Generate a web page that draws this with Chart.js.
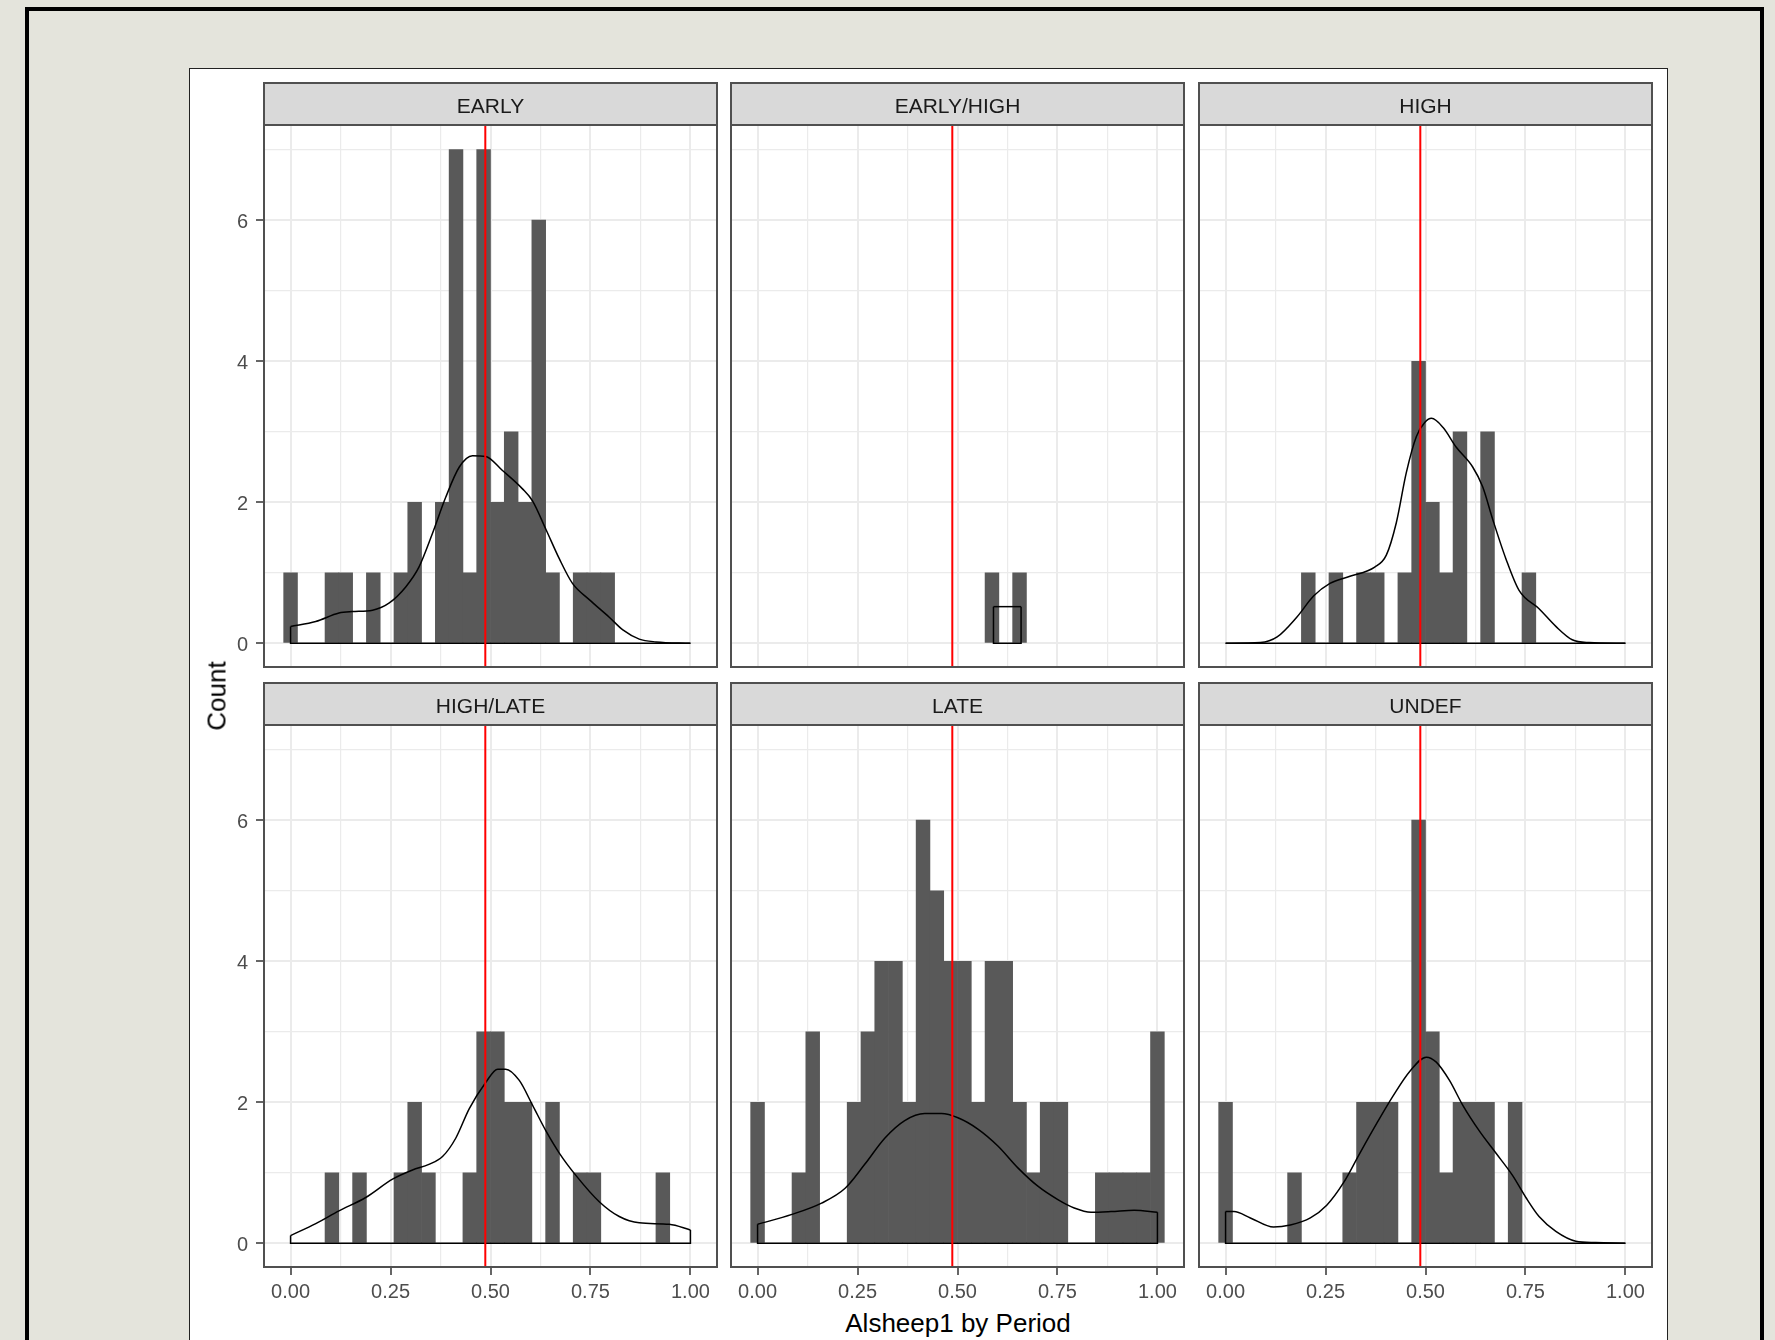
<!DOCTYPE html>
<html>
<head>
<meta charset="utf-8">
<script src="https://cdn.jsdelivr.net/npm/chart.js@4.4.1/dist/chart.umd.min.js"></script>
<style>
  html, body { margin: 0; padding: 0; }
  body {
    width: 1775px; height: 1340px; position: relative; overflow: hidden;
    background: #e4e4dc; font-family: "Liberation Sans", Arial, sans-serif;
  }
  #frame {
    position: absolute; left: 25px; top: 7px; width: 1739px; height: 1400px;
    border: 4px solid #000; box-sizing: border-box;
  }
  #sheet {
    position: absolute; left: 189px; top: 68px; width: 1479px; height: 1300px;
    background: #fff; border: 1px solid #222; box-sizing: border-box;
  }
  canvas { position: absolute; }
  .ytitle {
    position: absolute; left: 217px; top: 696px; font-size: 26px; color: #000;
    transform: translate(-50%, -50%) rotate(-90deg); white-space: nowrap;
  }
  .xtitle {
    position: absolute; left: 958px; top: 1308px; font-size: 26px; line-height: 30px;
    color: #000; transform: translateX(-50%); white-space: nowrap;
  }
</style>
</head>
<body>
<div id="frame"></div>
<div id="sheet"></div>
<div id="panels"></div>
<div class="ytitle">Count</div>
<div class="xtitle">Alsheep1 by Period</div>
<script>
const periods = ['EARLY', 'EARLY/HIGH', 'HIGH', 'HIGH/LATE', 'LATE', 'UNDEF'];

// 30 bins over [0, 1], centred on 0 .. 1 (ggplot default)
const binCount = 30;
const binWidth = 1 / (binCount - 1);
const binCenters = Array.from({ length: binCount }, (_, k) => k * binWidth);

const earlyCounts     = [1,0,0,1,1,0,1,0,1,2,0,2,7,1,7,2,3,2,6,1,0,1,1,1,0,0,0,0,0,0];
const earlyHighCounts = [0,0,0,0,0,0,0,0,0,0,0,0,0,0,0,0,0,1,0,1,0,0,0,0,0,0,0,0,0,0];
const highCounts      = [0,0,0,0,0,0,1,0,1,0,1,1,0,1,4,2,1,3,0,3,0,0,1,0,0,0,0,0,0,0];
const highLateCounts  = [0,0,0,1,0,1,0,0,1,2,1,0,0,1,3,3,2,2,0,2,0,1,1,0,0,0,0,1,0,0];
const lateCounts      = [2,0,0,1,3,0,0,2,3,4,4,2,6,5,4,4,2,4,4,2,1,2,2,0,0,1,1,1,1,3];
const undefCounts     = [2,0,0,0,0,1,0,0,0,1,2,2,2,0,6,3,1,2,2,2,0,2,0,0,0,0,0,0,0,0];

// density curves
const earlyDensX = [0, 0.063, 0.121, 0.154, 0.205, 0.246, 0.288, 0.321, 0.355, 0.388, 0.422, 0.455, 0.488, 0.530, 0.580, 0.605, 0.639, 0.672, 0.705, 0.747, 0.797, 0.831, 0.872, 0.914, 1];
const earlyDensY = [0.24, 0.31, 0.43, 0.45, 0.47, 0.57, 0.80, 1.08, 1.56, 2.07, 2.50, 2.66, 2.65, 2.45, 2.19, 2.02, 1.61, 1.20, 0.85, 0.62, 0.37, 0.19, 0.06, 0.02, 0];
const earlyHighDensX = [0.59, 0.659];
const earlyHighDensY = [0.52, 0.52];
const highDensX = [0, 0.087, 0.129, 0.178, 0.220, 0.261, 0.311, 0.373, 0.402, 0.427, 0.452, 0.477, 0.498, 0.515, 0.544, 0.577, 0.618, 0.643, 0.668, 0.701, 0.734, 0.784, 0.826, 0.867, 0.909, 1];
const highDensY = [0, 0.01, 0.09, 0.37, 0.67, 0.85, 0.95, 1.08, 1.25, 1.71, 2.42, 2.93, 3.13, 3.19, 3.06, 2.78, 2.50, 2.22, 1.76, 1.20, 0.75, 0.49, 0.24, 0.05, 0.01, 0];
const highLateDensX = [0, 0.063, 0.121, 0.188, 0.255, 0.305, 0.346, 0.380, 0.413, 0.447, 0.488, 0.518, 0.538, 0.572, 0.605, 0.639, 0.672, 0.714, 0.772, 0.822, 0.872, 0.947, 1];
const highLateDensY = [0.11, 0.28, 0.46, 0.65, 0.91, 1.04, 1.12, 1.23, 1.49, 1.91, 2.28, 2.47, 2.47, 2.31, 1.96, 1.59, 1.28, 0.96, 0.59, 0.38, 0.29, 0.27, 0.19];
const lateDensX = [0, 0.086, 0.160, 0.219, 0.268, 0.318, 0.368, 0.418, 0.460, 0.501, 0.551, 0.601, 0.651, 0.701, 0.751, 0.792, 0.834, 0.884, 0.942, 1];
const lateDensY = [0.27, 0.41, 0.57, 0.78, 1.12, 1.49, 1.74, 1.84, 1.84, 1.78, 1.62, 1.38, 1.07, 0.81, 0.62, 0.50, 0.44, 0.45, 0.47, 0.44];
const undefDensX = [0, 0.021, 0.062, 0.120, 0.162, 0.212, 0.253, 0.295, 0.336, 0.378, 0.419, 0.461, 0.502, 0.527, 0.560, 0.593, 0.635, 0.676, 0.718, 0.751, 0.784, 0.826, 0.876, 0.925, 1];
const undefDensY = [0.45, 0.45, 0.36, 0.23, 0.26, 0.36, 0.54, 0.86, 1.28, 1.70, 2.09, 2.44, 2.64, 2.57, 2.31, 1.96, 1.59, 1.28, 0.96, 0.65, 0.38, 0.17, 0.03, 0.01, 0];

const meanLine = 0.487;

const xTickValues = [0, 0.25, 0.5, 0.75, 1];
const xTickLabels = ['0.00', '0.25', '0.50', '0.75', '1.00'];
const yTickValues = [0, 2, 4, 6];
const yTickLabels = ['0', '2', '4', '6'];

const countsByPeriod = [earlyCounts, earlyHighCounts, highCounts, highLateCounts, lateCounts, undefCounts];
const densXByPeriod = [earlyDensX, earlyHighDensX, highDensX, highLateDensX, lateDensX, undefDensX];
const densYByPeriod = [earlyDensY, earlyHighDensY, highDensY, highLateDensY, lateDensY, undefDensY];

// scale limits with ggplot's 5% expansion
const xExpand = 0.05 * (1 + binWidth);
const xMin = -binWidth / 2 - xExpand;
const xMax = 1 + binWidth / 2 + xExpand;
const yMin = -0.35;
const yMax = 7.35;

// layout (px)
const COL_LEFT = [263, 730, 1198];
const ROW_TOP = [82, 682];
const PANEL_W = 455;
const STRIP_H = 43;
const PANEL_H = 543;
const Y_AXIS_W = 80;
const X_AXIS_H = 40;

const FONT = '"Liberation Sans", Arial, sans-serif';
Chart.defaults.font.family = FONT;

const near = (list, v) => list.findIndex(t => Math.abs(t - v) < 1e-6);

const panelFrame = {
    id: 'panelFrame',
    beforeDraw(chart) {
        const { ctx, chartArea: a } = chart;
        ctx.save();
        ctx.fillStyle = '#d9d9d9';
        ctx.fillRect(a.left, 0, a.right - a.left, a.top);
        ctx.strokeStyle = '#505050';
        ctx.lineWidth = 2;
        ctx.strokeRect(a.left + 1, 1, a.right - a.left - 2, a.top - 1);
        ctx.restore();
    },
    afterDatasetsDraw(chart) {
        const { ctx, chartArea: a } = chart;
        ctx.save();
        ctx.strokeStyle = '#505050';
        ctx.lineWidth = 2;
        ctx.strokeRect(a.left + 1, a.top, a.right - a.left - 2, a.bottom - a.top - 1);
        ctx.restore();
    }
};

const makePanel = (idx) => {
    const col = idx % 3;
    const row = Math.floor(idx / 3);
    const leftAxis = col === 0;
    const bottomAxis = row === 1;
    const w = PANEL_W + (leftAxis ? Y_AXIS_W : 0);
    const h = STRIP_H + PANEL_H + (bottomAxis ? X_AXIS_H : 0);

    const canvas = document.createElement('canvas');
    canvas.width = w;
    canvas.height = h;
    canvas.style.left = (COL_LEFT[col] - (leftAxis ? Y_AXIS_W : 0)) + 'px';
    canvas.style.top = ROW_TOP[row] + 'px';
    canvas.style.width = w + 'px';
    canvas.style.height = h + 'px';
    document.getElementById('panels').appendChild(canvas);

    const counts = countsByPeriod[idx];
    const dx = densXByPeriod[idx];
    const dy = densYByPeriod[idx];
    const last = dx.length - 1;

    const bars = binCenters.map((x, k) => ({ x, y: counts[k] }));
    const curve = dx.map((x, i) => ({ x, y: dy[i] }));
    const outline = [
        { x: dx[0], y: dy[0] }, { x: dx[0], y: 0 },
        { x: dx[last], y: 0 }, { x: dx[last], y: dy[last] }
    ];

    const tickFont = { size: 20 };

    new Chart(canvas, {
        type: 'bar',
        data: {
            datasets: [
                {
                    type: 'line',
                    data: [{ x: meanLine, y: yMin }, { x: meanLine, y: yMax }],
                    borderColor: '#ff0000',
                    borderWidth: 2,
                    pointRadius: 0,
                    order: 0
                },
                {
                    type: 'line',
                    data: curve,
                    borderColor: '#000000',
                    borderWidth: 1.5,
                    pointRadius: 0,
                    cubicInterpolationMode: 'monotone',
                    order: 1
                },
                {
                    type: 'line',
                    data: outline,
                    borderColor: '#000000',
                    borderWidth: 1.5,
                    pointRadius: 0,
                    tension: 0,
                    order: 1
                },
                {
                    type: 'bar',
                    data: bars,
                    backgroundColor: c => (c.raw && c.raw.y > 0 ? '#595959' : 'rgba(0,0,0,0)'),
                    borderWidth: 0,
                    barPercentage: 1,
                    categoryPercentage: 1,
                    order: 2
                }
            ]
        },
        options: {
            responsive: false,
            maintainAspectRatio: false,
            animation: false,
            events: [],
            layout: { padding: 0 },
            plugins: {
                legend: { display: false },
                tooltip: { enabled: false },
                title: {
                    display: true,
                    text: periods[idx],
                    fullSize: false,
                    color: '#1a1a1a',
                    font: { size: 21, weight: 'normal', lineHeight: '25px' },
                    padding: { top: 13, bottom: 5 }
                }
            },
            scales: {
                x: {
                    type: 'linear',
                    min: xMin,
                    max: xMax,
                    offset: false,
                    afterFit: s => { s.height = bottomAxis ? X_AXIS_H : 0; s.paddingLeft = 0; s.paddingRight = 0; },
                    ticks: {
                        display: bottomAxis,
                        stepSize: 0.125,
                        includeBounds: false,
                        autoSkip: false,
                        maxRotation: 0,
                        padding: 5,
                        color: '#4d4d4d',
                        font: tickFont,
                        callback: v => { const i = near(xTickValues, v); return i >= 0 ? xTickLabels[i] : ''; }
                    },
                    grid: {
                        offset: false,
                        color: '#ebebeb',
                        lineWidth: c => (c.tick && near(xTickValues, c.tick.value) >= 0 ? 2 : 1.2),
                        drawTicks: bottomAxis,
                        tickLength: 7,
                        tickWidth: 1.5,
                        tickColor: c => (c.tick && near(xTickValues, c.tick.value) >= 0 ? '#333333' : 'rgba(0,0,0,0)')
                    },
                    border: { display: false }
                },
                y: {
                    min: yMin,
                    max: yMax,
                    afterFit: s => { s.width = leftAxis ? Y_AXIS_W : 0; s.paddingTop = 0; s.paddingBottom = 0; },
                    ticks: {
                        display: leftAxis,
                        stepSize: 1,
                        includeBounds: false,
                        autoSkip: false,
                        padding: 8,
                        labelOffset: 2,
                        color: '#4d4d4d',
                        font: tickFont,
                        callback: v => { const i = near(yTickValues, v); return i >= 0 ? yTickLabels[i] : ''; }
                    },
                    grid: {
                        color: '#ebebeb',
                        lineWidth: c => (c.tick && near(yTickValues, c.tick.value) >= 0 ? 2 : 1.2),
                        drawTicks: leftAxis,
                        tickLength: 7,
                        tickWidth: 1.5,
                        tickColor: c => (c.tick && near(yTickValues, c.tick.value) >= 0 ? '#333333' : 'rgba(0,0,0,0)')
                    },
                    border: { display: false }
                }
            }
        },
        plugins: [panelFrame]
    });
};

periods.forEach((_, i) => makePanel(i));
</script>
</body>
</html>
